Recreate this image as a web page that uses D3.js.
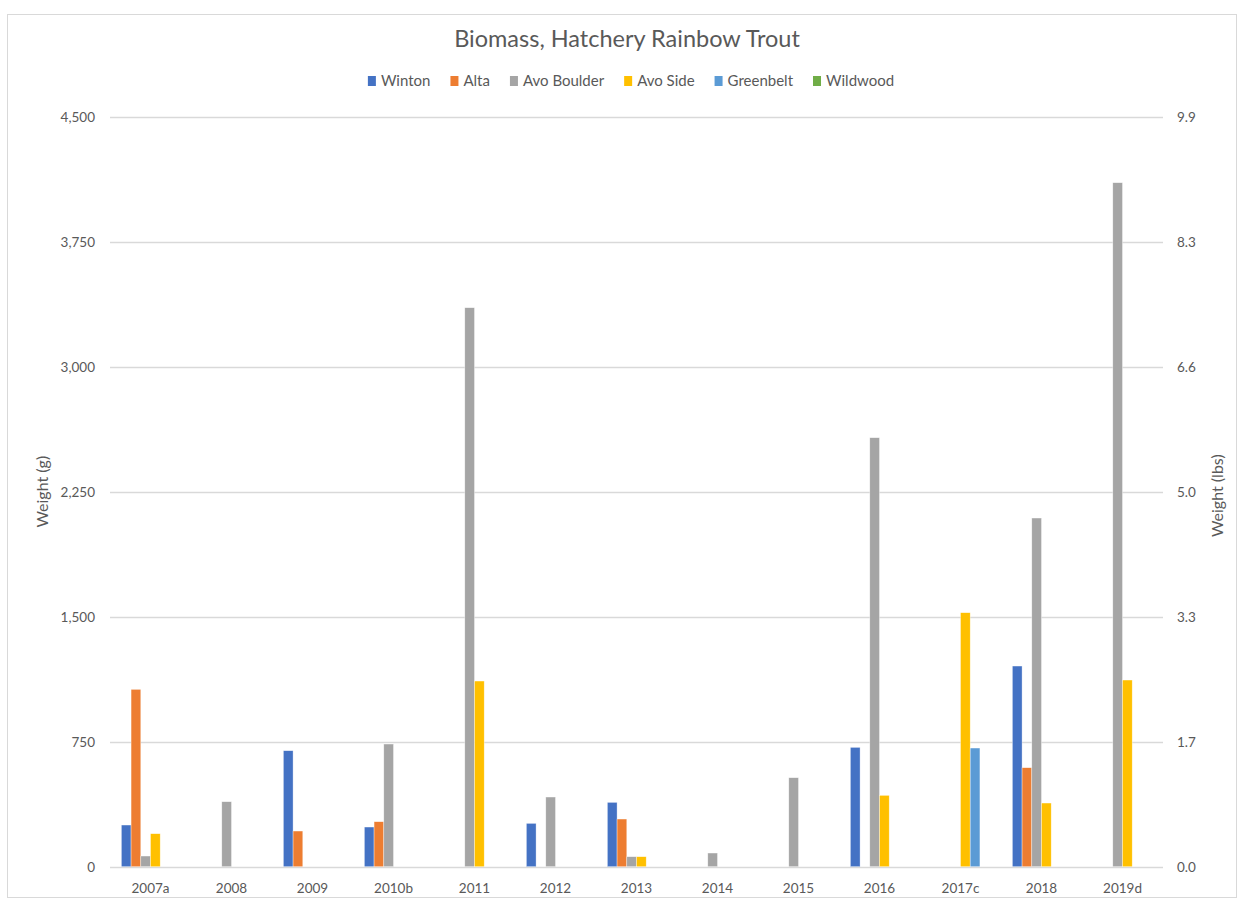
<!DOCTYPE html>
<html>
<head>
<meta charset="utf-8">
<script src="https://cdn.jsdelivr.net/npm/d3@7"></script>
<style>
  html, body { margin: 0; padding: 0; background: #fff; }
  svg { display: block; }
  text { font-family: Lato, "Open Sans", sans-serif; fill: #595959; }
</style>
</head>
<body>
<svg id="chart" width="1243" height="906"></svg>
<script>
// Survey years (letters mark footnoted years)
const years = ["2007a", "2008", "2009", "2010b", "2011", "2012", "2013", "2014", "2015", "2016", "2017c", "2018", "2019d"];

// Biomass in grams per site; 0 = no fish recorded
const winton     = [250, 0, 696, 238, 0, 260, 386, 0, 0, 716, 0, 1204, 0];
const alta       = [1064, 0, 214, 270, 0, 0, 286, 0, 0, 0, 0, 594, 0];
const avoBoulder = [64, 390, 0, 736, 3354, 418, 60, 82, 534, 2574, 0, 2092, 4104];
const avoSide    = [198, 0, 0, 0, 1114, 0, 60, 0, 0, 428, 1524, 382, 1120];
const greenbelt  = [0, 0, 0, 0, 0, 0, 0, 0, 0, 0, 712, 0, 0];
const wildwood   = [0, 0, 0, 0, 0, 0, 0, 0, 0, 0, 0, 0, 0];

const seriesNames = ["Winton", "Alta", "Avo Boulder", "Avo Side", "Greenbelt", "Wildwood"];
const seriesValues = [winton, alta, avoBoulder, avoSide, greenbelt, wildwood];
const seriesColors = ["#4472C4", "#ED7D31", "#A5A5A5", "#FFC000", "#5B9BD5", "#70AD47"];

// Axis ticks: grams on the left, the same gridlines labelled in pounds on the right
const gramTicks = [0, 750, 1500, 2250, 3000, 3750, 4500];
const poundLabels = ["0.0", "1.7", "3.3", "5.0", "6.6", "8.3", "9.9"];

const svg = d3.select("#chart");
const plot = { left: 110, right: 1163, top: 116.7, bottom: 866.7 };

// Outer chart frame
svg.append("rect")
  .attr("x", 7.5).attr("y", 14.5)
  .attr("width", 1229).attr("height", 883)
  .attr("fill", "#fff").attr("stroke", "#d9d9d9").attr("stroke-width", 1);

const y = d3.scaleLinear().domain([0, 4500]).range([plot.bottom, plot.top]);
const x0 = d3.scaleBand().domain(years).range([plot.left, plot.right]).paddingInner(0).paddingOuter(0);
const x1 = d3.scaleBand().domain(seriesNames).range([0, x0.bandwidth()]).paddingInner(0).paddingOuter(1.17);

// Gridlines
svg.append("g").selectAll("line")
  .data(gramTicks)
  .join("line")
  .attr("x1", plot.left).attr("x2", plot.right)
  .attr("y1", d => Math.round(y(d)) + 0.5).attr("y2", d => Math.round(y(d)) + 0.5)
  .attr("stroke", "#d9d9d9").attr("stroke-width", 1.3);

// Left axis (grams)
const leftAxis = d3.axisLeft(y).tickValues(gramTicks).tickFormat(d3.format(",")).tickSize(0).tickPadding(0);
const gl = svg.append("g").attr("transform", `translate(${95},0)`).call(leftAxis);
gl.select(".domain").remove();
gl.selectAll("text").attr("font-size", 13.5).attr("fill", "#595959").attr("font-family", "'Open Sans', sans-serif");

// Right axis (pounds)
const rightAxis = d3.axisRight(y).tickValues(gramTicks).tickFormat((d, i) => poundLabels[i]).tickSize(0).tickPadding(0);
const gr = svg.append("g").attr("transform", `translate(${1177},0)`).call(rightAxis);
gr.select(".domain").remove();
gr.selectAll("text").attr("font-size", 13.5).attr("fill", "#595959").attr("font-family", "'Open Sans', sans-serif");

// Bars
const groups = svg.append("g").selectAll("g")
  .data(years)
  .join("g")
  .attr("transform", d => `translate(${x0(d)},0)`);

groups.selectAll("rect")
  .data((d, i) => seriesNames.map((s, k) => ({ series: s, value: seriesValues[k][i], color: seriesColors[k] })))
  .join("rect")
  .attr("x", d => x1(d.series))
  .attr("width", x1.bandwidth())
  .attr("y", d => y(d.value))
  .attr("height", d => y(0) - y(d.value))
  .attr("fill", d => d.color)
  .attr("stroke", "#fff").attr("stroke-opacity", 0.6).attr("stroke-width", 0.6);

// Category axis labels
const bottomAxis = d3.axisBottom(x0).tickSize(0).tickPadding(0);
const gb = svg.append("g").attr("transform", `translate(0,${883})`).call(bottomAxis);
gb.select(".domain").remove();
gb.selectAll("text").attr("font-size", 13.5).attr("fill", "#595959").attr("font-family", "'Open Sans', sans-serif");

// Title
svg.append("text")
  .attr("x", 627).attr("y", 47)
  .attr("text-anchor", "middle")
  .attr("font-size", 23.5)
  .text("Biomass, Hatchery Rainbow Trout");

// Axis titles
svg.append("text")
  .attr("transform", `translate(48,${(plot.top + plot.bottom) / 2}) rotate(-90)`)
  .attr("text-anchor", "middle").attr("font-size", 16)
  .text("Weight (g)");
svg.append("text")
  .attr("transform", `translate(1223,${(plot.top + plot.bottom) / 2 + 4}) rotate(-90)`)
  .attr("text-anchor", "middle").attr("font-size", 16)
  .text("Weight (lbs)");

// Legend
const legend = svg.append("g");
let lx = 0;
seriesNames.forEach((name, k) => {
  const item = legend.append("g").attr("transform", `translate(${lx},0)`);
  item.append("rect").attr("x", 0).attr("y", -10).attr("width", 8).attr("height", 10).attr("fill", seriesColors[k]);
  const t = item.append("text").attr("x", 13).attr("y", 0).attr("font-size", 15).text(name);
  lx += 13 + t.node().getComputedTextLength() + 20;
});
const legendWidth = lx - 20;
legend.attr("transform", `translate(${631 - legendWidth / 2},${86})`);
</script>
</body>
</html>
